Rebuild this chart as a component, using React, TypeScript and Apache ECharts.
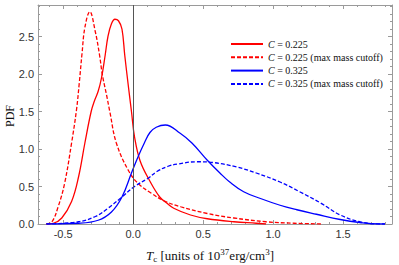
import React, { useEffect, useRef } from "react";
import * as echarts from "echarts";

// ---- Data ----
const redSolidX = [-0.62, -0.57, -0.51, -0.44, -0.39, -0.345, -0.30, -0.275, -0.25, -0.226, -0.2, -0.18, -0.155, -0.13, -0.105, -0.08, -0.06, -0.035, -0.012, 0.01, 0.05, 0.12, 0.19, 0.24, 0.29, 0.41, 0.53, 0.72, 0.88, 0.95];
const redSolidY = [0, 0.01, 0.08, 0.3, 0.63, 1.08, 1.5, 1.65, 1.77, 1.95, 2.25, 2.5, 2.67, 2.73, 2.71, 2.6, 2.25, 1.85, 1.5, 1.16, 0.84, 0.57, 0.36, 0.28, 0.21, 0.12, 0.07, 0.03, 0.01, 0];

const redDashX = [-0.62, -0.58, -0.536, -0.49, -0.44, -0.405, -0.385, -0.365, -0.345, -0.31, -0.27, -0.24, -0.22, -0.19, -0.167, -0.12, -0.036, 0.036, 0.13, 0.22, 0.34, 0.53, 0.72, 0.95, 1.15, 1.35];
const redDashY = [0, 0.03, 0.23, 0.54, 1.08, 1.52, 1.88, 2.28, 2.62, 2.83, 2.56, 2.25, 1.99, 1.72, 1.5, 1.08, 0.72, 0.54, 0.41, 0.31, 0.23, 0.14, 0.08, 0.03, 0.01, 0];

const blueSolidX = [-0.62, -0.39, -0.25, -0.155, -0.08, -0.012, 0.036, 0.08, 0.12, 0.165, 0.23, 0.336, 0.42, 0.53, 0.62, 0.69, 0.79, 0.91, 1.05, 1.17, 1.31, 1.48, 1.62, 1.76, 1.8];
const blueSolidY = [0, 0.01, 0.05, 0.16, 0.36, 0.68, 0.9, 1.08, 1.22, 1.29, 1.32, 1.21, 1.08, 0.85, 0.68, 0.56, 0.43, 0.34, 0.25, 0.19, 0.13, 0.06, 0.02, 0.0, 0];

const blueDashX = [-0.62, -0.39, -0.27, -0.18, -0.08, 0.01, 0.107, 0.17, 0.25, 0.32, 0.455, 0.57, 0.74, 0.88, 1.05, 1.19, 1.34, 1.48, 1.62, 1.76, 1.8];
const blueDashY = [0, 0.03, 0.1, 0.21, 0.36, 0.5, 0.61, 0.7, 0.77, 0.8, 0.83, 0.82, 0.76, 0.68, 0.56, 0.43, 0.28, 0.12, 0.03, 0, 0];

const seriesNames = ["C = 0.225", "C = 0.225 (max mass cutoff)", "C = 0.325", "C = 0.325 (max mass cutoff)"];

const xMajor = [-0.5, 0, 0.5, 1.0, 1.5];
const xMinor = [-0.6, -0.4, -0.3, -0.2, -0.1, 0.1, 0.2, 0.3, 0.4, 0.6, 0.7, 0.8, 0.9, 1.1, 1.2, 1.3, 1.4, 1.6, 1.7, 1.8];
const yMajor = [0, 0.5, 1.0, 1.5, 2.0, 2.5];
const yMinor = [0.1, 0.2, 0.3, 0.4, 0.6, 0.7, 0.8, 0.9, 1.1, 1.2, 1.3, 1.4, 1.6, 1.7, 1.8, 1.9, 2.1, 2.2, 2.3, 2.4, 2.6, 2.7, 2.8, 2.9];

const X_MIN = -0.68;
const X_MAX = 1.85;
const Y_MIN = 0;
const Y_MAX = 2.92;

const zip = (xs: number[], ys: number[]) => xs.map((x, i) => [x, ys[i]]);

export default function App() {
  const ref = useRef<HTMLDivElement>(null);
  useEffect(() => {
    if (!ref.current) return;
    const chart = echarts.init(ref.current, null, { renderer: "svg" });
    const frame = "#9a9a9a";
    const mkX = (position: string, ticks: number[], len: number, showLine: boolean, labels: boolean) => ({
      type: "value",
      position,
      min: X_MIN,
      max: X_MAX,
      splitLine: { show: false },
      axisLine: { show: showLine, onZero: false, lineStyle: { color: frame, width: 1 } },
      axisTick: { show: true, inside: true, length: len, customValues: ticks, lineStyle: { color: frame } },
      axisLabel: labels
        ? { show: true, customValues: xMajor, margin: 4, color: "#333", fontFamily: "Liberation Sans", fontSize: 11, formatter: (v: number) => v.toFixed(1) }
        : { show: false },
    });
    const mkY = (position: string, ticks: number[], len: number, showLine: boolean, labels: boolean) => ({
      type: "value",
      position,
      min: Y_MIN,
      max: Y_MAX,
      splitLine: { show: false },
      axisLine: { show: showLine, onZero: false, lineStyle: { color: frame, width: 1 } },
      axisTick: { show: true, inside: true, length: len, customValues: ticks, lineStyle: { color: frame } },
      axisLabel: labels
        ? { show: true, customValues: yMajor, margin: 4, color: "#333", fontFamily: "Liberation Sans", fontSize: 11, formatter: (v: number) => v.toFixed(1) }
        : { show: false },
    });
    const xMain: any = mkX("bottom", xMajor, 4, true, true);
    xMain.name = "{it|T}{sub|c} [units of 10{sup|37}erg/cm{sup|3}]";
    xMain.nameLocation = "middle";
    xMain.nameGap = 23;
    xMain.nameTextStyle = {
      fontFamily: "Liberation Serif",
      fontSize: 13,
      color: "#111",
      lineHeight: 16,
      padding: [0, 10, 0, 0],
      rich: {
        it: { fontFamily: "Liberation Serif", fontStyle: "italic", fontSize: 13, color: "#111", lineHeight: 16 },
        sub: { fontFamily: "Liberation Serif", fontSize: 9, color: "#111", verticalAlign: "bottom", lineHeight: 16 },
        sup: { fontFamily: "Liberation Serif", fontSize: 9, color: "#111", verticalAlign: "top", lineHeight: 16 },
      },
    };
    const yMain: any = mkY("left", yMajor, 4, true, true);

    const lineSeries = (name: string, xs: number[], ys: number[], color: string, dashed: boolean, extra: any = {}) => ({
      type: "line",
      name,
      data: zip(xs, ys),
      xAxisIndex: 0,
      yAxisIndex: 0,
      showSymbol: false,
      symbol: "none",
      smooth: 0.4,
      lineStyle: { color, width: 1.3, type: dashed ? [4, 2] : "solid" },
      itemStyle: { color },
      ...extra,
    });

    chart.setOption({
      animation: false,
      grid: { left: 38, right: 7, top: 5, bottom: 41, containLabel: false, outerBoundsMode: "none" },
      xAxis: [xMain, mkX("bottom", xMinor, 2, false, false), mkX("top", xMajor, 4, true, false), mkX("top", xMinor, 2, false, false)],
      yAxis: [yMain, mkY("left", yMinor, 2, false, false), mkY("right", yMajor, 4, true, false), mkY("right", yMinor, 2, false, false)],
      graphic: [
        {
          type: "text",
          x: 10,
          y: 116,
          rotation: Math.PI / 2,
          style: { text: "PDF", fontFamily: "Liberation Serif", fontSize: 12, fill: "#111", align: "center", verticalAlign: "middle" },
        },
      ],
      legend: {
        orient: "vertical",
        left: 225,
        top: 33,
        itemWidth: 32,
        itemHeight: 8,
        itemGap: 1.3,
        data: seriesNames,
        itemStyle: { opacity: 0 },
        textStyle: {
          fontFamily: "Liberation Serif",
          fontSize: 10,
          lineHeight: 12,
          color: "#111",
          rich: { i: { fontFamily: "Liberation Serif", fontStyle: "italic", fontSize: 10, lineHeight: 12, color: "#111" } },
        },
        formatter: (name: string) => "{i|C}" + name.slice(1),
      },
      series: [
        lineSeries(seriesNames[0], redSolidX, redSolidY, "#ff0000", false, {
          markLine: {
            silent: true,
            symbol: "none",
            label: { show: false },
            lineStyle: { color: "#555", width: 1, type: "solid" },
            data: [{ xAxis: 0 }],
          },
        }),
        lineSeries(seriesNames[1], redDashX, redDashY, "#ff0000", true),
        lineSeries(seriesNames[2], blueSolidX, blueSolidY, "#0000ff", false),
        lineSeries(seriesNames[3], blueDashX, blueDashY, "#0000ff", true),
      ],
    });
    return () => chart.dispose();
  }, []);
  return <div ref={ref} style={{ width: 399, height: 265, position: "absolute", left: 0, top: 0 }} />;
}
